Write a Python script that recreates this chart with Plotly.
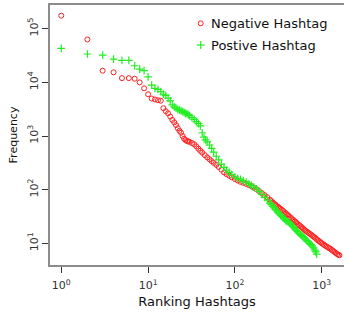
import plotly.graph_objects as go

# Negative hashtags: rank -> frequency
neg_rank = [1, 2, 3, 4, 5, 6, 7, 8, 9, 10, 11, 12, 13, 14, 15, 16, 17, 18, 19, 20,
            21, 22, 23, 24, 25, 26, 27, 28, 29, 30, 32, 34, 36, 38, 40, 42, 45, 48,
            51, 54, 57, 61, 65, 70, 75, 80, 86, 92, 100, 108, 116, 125, 135, 145,
            155, 165, 178, 190, 205, 220, 237, 254, 263, 272, 282, 292, 302, 313,
            324, 336, 348, 360, 373, 386, 400, 414, 429, 444, 460, 476, 493, 510,
            528, 547, 567, 587, 608, 629, 652, 675, 699, 724, 750, 776, 804, 832,
            862, 892, 924, 957, 991, 1026, 1063, 1100, 1140, 1180, 1222, 1265,
            1310, 1357, 1405, 1455, 1507, 1560, 1600]
neg_freq = [175000, 63000, 16500, 15400, 12000, 12000, 11700, 10000, 7750, 6000,
            5000, 4800, 4650, 4550, 3300, 2900, 2650, 2300, 2000, 1800,
            1600, 1400, 1250, 1150, 1000, 890, 840, 810, 790, 780, 740, 700, 640,
            580, 530, 490, 440, 400, 370, 340, 315, 290, 265, 235, 210, 195, 182,
            170, 158, 148, 140, 134, 128, 122, 116, 109, 101, 94, 86, 79, 72, 65,
            61, 58, 55, 53, 50, 48, 46, 44, 42, 40, 38, 36, 34.5, 33, 31, 29.5,
            28, 27, 25.5, 24.5, 23, 22, 21, 20, 19, 18, 17.2, 16.5, 15.8, 15.2,
            14.6, 14, 13.4, 12.8, 12.2, 11.6, 11.1, 10.6, 10.2, 9.8, 9.4, 9.0,
            8.7, 8.4, 8.1, 7.9, 7.5, 7.2, 6.9, 6.6, 6.3, 6.1, 6.0]

# Positive hashtags: rank -> frequency
pos_rank = [1, 2, 3, 4, 5, 6, 7, 8, 9, 10, 11, 12, 13, 14, 15, 16, 17, 18, 19, 20,
            21, 22, 23, 24, 25, 26, 27, 28, 29, 30, 32, 34, 36, 38, 40, 42, 44, 46,
            48, 51, 54, 57, 61, 65, 70, 75, 80, 86, 92, 100, 108, 116, 125, 135,
            145, 155, 165, 178, 190, 205, 220, 237, 254, 263, 272, 282, 292, 302,
            313, 324, 336, 348, 360, 373, 386, 400, 414, 429, 444, 460, 476, 493,
            510, 528, 547, 567, 587, 608, 629, 652, 675, 699, 724, 750, 776, 806,
            837, 856, 875]
pos_freq = [43000, 33800, 32300, 27000, 25800, 25800, 20400, 17700, 16500, 12700,
            8900, 7750, 7400, 6700, 6000, 5700, 5100, 4500, 3800, 3500,
            3300, 3150, 3050, 2950, 2850, 2750, 2650, 2600, 2500, 2400, 2200, 2050,
            1850, 1700, 1550, 1150, 950, 850, 780, 680, 590, 500, 420, 360, 300,
            260, 231, 210, 190, 174, 163, 155, 148, 138, 128, 120, 112, 104, 93,
            82, 72, 64, 56, 52.5, 49, 46, 43, 40.5, 38, 35.8, 33.5, 31.7, 30,
            28.2, 26.5, 25.7, 25, 23.7, 22.5, 21.1, 19.8, 18.6, 17.5, 16.5, 15.5,
            14.7, 14, 13.3, 12.6, 11.9, 11.2, 10.6, 10.0, 9.5, 9.0, 8.2, 7.5, 6.9,
            6.3]

x_tickvals = [1, 10, 100, 1000]
x_ticktext = ["10<sup>0</sup>", "10<sup>1</sup>", "10<sup>2</sup>", "10<sup>3</sup>"]
y_tickvals = [10, 100, 1000, 10000, 100000]
y_ticktext = ["10<sup>1</sup>", "10<sup>2</sup>", "10<sup>3</sup>", "10<sup>4</sup>", "10<sup>5</sup>"]
legend_names = ["Negative Hashtag", "Postive Hashtag"]

FONT = "DejaVu Sans"
RED = "#ff2020"
GREEN = "#22ee22"

fig = go.Figure()
fig.add_trace(go.Scatter(
    x=neg_rank, y=neg_freq, mode="markers", name=legend_names[0],
    marker=dict(symbol="circle-open", size=5, color=RED, line=dict(width=1, color=RED)),
))
fig.add_trace(go.Scatter(
    x=pos_rank, y=pos_freq, mode="markers", name=legend_names[1],
    marker=dict(symbol="cross-thin-open", size=5.5, color=GREEN, line=dict(width=1.2, color=GREEN)),
))

# Manual legend (symbols as pixel-sized shapes, labels as annotations)
lx, tx = 0.5126, 0.541
ly = [0.9296, 0.846]
shapes = [
    dict(type="circle", xref="paper", yref="paper", xsizemode="pixel", ysizemode="pixel",
         xanchor=lx, yanchor=ly[0], x0=-2.5, x1=2.5, y0=-2.5, y1=2.5,
         line=dict(color=RED, width=1)),
    dict(type="line", xref="paper", yref="paper", xsizemode="pixel", ysizemode="pixel",
         xanchor=lx, yanchor=ly[1], x0=-4, x1=4, y0=0, y1=0,
         line=dict(color=GREEN, width=1.2)),
    dict(type="line", xref="paper", yref="paper", xsizemode="pixel", ysizemode="pixel",
         xanchor=lx, yanchor=ly[1], x0=0, x1=0, y0=-4, y1=4,
         line=dict(color=GREEN, width=1.2)),
]
annotations = [
    dict(text=legend_names[i], xref="paper", yref="paper", x=tx, y=ly[i],
         xanchor="left", yanchor="middle", showarrow=False,
         font=dict(size=13, color="#111", family=FONT))
    for i in range(2)
]

fig.update_layout(
    width=349, height=313,
    margin=dict(l=50, r=5, t=5, b=48, autoexpand=False),
    paper_bgcolor="white", plot_bgcolor="white",
    font=dict(family=FONT, size=11, color="#222"),
    showlegend=False,
    shapes=shapes, annotations=annotations,
)
fig.update_xaxes(
    type="log", range=[-0.130, 3.257], automargin=False,
    tickvals=x_tickvals, ticktext=x_ticktext,
    showgrid=False, zeroline=False,
    showline=True, linecolor="#8c8c8c", linewidth=2, mirror=True,
    ticks="outside", ticklen=6, tickcolor="#333", tickwidth=1, ticklabelstandoff=3,
    tickfont=dict(size=11, color="#333"),
    title=dict(text="Ranking Hashtags", font=dict(size=13, color="#111"), standoff=6),
)
fig.update_yaxes(
    type="log", range=[0.596, 5.442], automargin=False,
    tickvals=y_tickvals, ticktext=y_ticktext, tickangle=-90,
    showgrid=False, zeroline=False,
    showline=True, linecolor="#8c8c8c", linewidth=2, mirror=False,
    ticks="outside", ticklen=6, tickcolor="#333", tickwidth=1, ticklabelstandoff=0,
    tickfont=dict(size=11, color="#333"),
    title=dict(text="Frequency", font=dict(size=11, color="#111"), standoff=6),
)

fig.write_html("out.html", config={"displayModeBar": False},
               post_script="document.body.style.margin='0';")
